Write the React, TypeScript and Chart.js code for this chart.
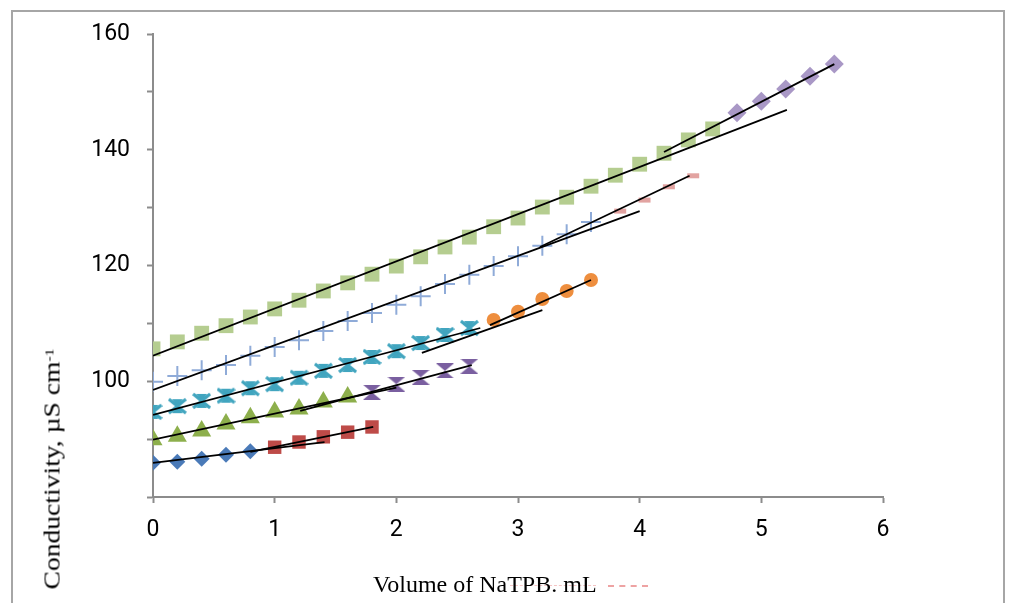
import React, { useEffect, useRef } from 'react';
import { Chart, registerables } from 'chart.js';

Chart.register(...registerables);

// ---- axis ticks ----
const xTicks = [0, 1, 2, 3, 4, 5, 6];
const yLabelled = [100, 120, 140, 160];

// ---- data series ----
const diamondX = [0, 0.2, 0.4, 0.6, 0.8];
const diamondY = [85.9, 86.1, 86.6, 87.3, 87.9];

const redSqX = [1.0, 1.2, 1.4, 1.6, 1.8];
const redSqY = [88.6, 89.5, 90.4, 91.2, 92.1];

const triX = [0, 0.2, 0.4, 0.6, 0.8, 1.0, 1.2, 1.4, 1.6];
const triY = [89.9, 90.5, 91.4, 92.6, 93.7, 94.7, 95.2, 96.4, 97.3];

const hourX = [1.8, 2.0, 2.2, 2.4, 2.6];
const hourY = [98.1, 99.5, 100.7, 101.8, 102.6];

const tealX = [0, 0.2, 0.4, 0.6, 0.8, 1.0, 1.2, 1.4, 1.6, 1.8, 2.0, 2.2, 2.4, 2.6];
const tealY = [94.7, 95.7, 96.6, 97.5, 98.8, 99.5, 100.6, 101.8, 102.8, 104.2, 105.2, 106.6, 108.0, 109.2];

const orangeX = [2.8, 3.0, 3.2, 3.4, 3.6];
const orangeY = [110.6, 112.0, 114.2, 115.6, 117.5];

const plusX = [0, 0.2, 0.4, 0.6, 0.8, 1.0, 1.2, 1.4, 1.6, 1.8, 2.0, 2.2, 2.4, 2.6, 2.8, 3.0, 3.2, 3.4, 3.6];
const plusY = [99.9, 100.9, 101.9, 102.8, 104.4, 105.9, 107.1, 108.7, 110.4, 111.8, 113.2, 114.7, 116.8, 118.4, 119.9, 121.6, 123.4, 125.4, 127.5];

const pinkX = [3.84, 4.04, 4.24, 4.44];
const pinkY = [129.4, 131.3, 133.6, 135.5];

const greenSqX = [0, 0.2, 0.4, 0.6, 0.8, 1.0, 1.2, 1.4, 1.6, 1.8, 2.0, 2.2, 2.4, 2.6, 2.8, 3.0, 3.2, 3.4, 3.6, 3.8, 4.0, 4.2, 4.4, 4.6];
const greenSqY = [105.6, 106.8, 108.3, 109.6, 111.1, 112.5, 114.0, 115.6, 117.0, 118.5, 119.9, 121.5, 123.2, 124.9, 126.7, 128.2, 130.1, 131.8, 133.7, 135.6, 137.5, 139.4, 141.7, 143.6];

const lavX = [4.8, 5.0, 5.2, 5.4, 5.6];
const lavY = [146.4, 148.4, 150.5, 152.7, 154.8];

// ---- fitted straight lines: [x start, x end], [y start, y end] ----
const fitDiamondX = [0, 1.41];
const fitDiamondY = [85.9, 89.5];
const fitRedX = [0.8, 1.81];
const fitRedY = [87.8, 92.1];
const fitTriX = [0, 2.0];
const fitTriY = [89.9, 98.9];
const fitHourX = [1.21, 2.62];
const fitHourY = [94.9, 102.8];
const fitTealX = [0, 2.69];
const fitTealY = [94.2, 109.2];
const fitTeal2X = [2.21, 3.2];
const fitTeal2Y = [104.9, 112.3];
const fitOrangeX = [2.77, 3.6];
const fitOrangeY = [109.7, 117.5];
const fitPlusX = [0, 4.0];
const fitPlusY = [98.5, 129.4];
const fitPinkX = [3.18, 4.41];
const fitPinkY = [123.2, 135.5];
const fitGreenX = [0, 5.21];
const fitGreenY = [104.4, 146.9];
const fitLavX = [4.2, 5.6];
const fitLavY = [139.6, 154.8];

const pts = (xs: number[], ys: number[]) => xs.map((x, i) => ({ x, y: ys[i] }));

function makeStarX(color: string): HTMLCanvasElement {
  const c = document.createElement('canvas');
  c.width = 19;
  c.height = 18;
  const g = c.getContext('2d')!;
  g.fillStyle = color;
  g.strokeStyle = color;
  g.beginPath();
  g.moveTo(4, 2);
  g.lineTo(15, 2);
  g.lineTo(9.5, 9);
  g.closePath();
  g.fill();
  g.beginPath();
  g.moveTo(4, 16);
  g.lineTo(15, 16);
  g.lineTo(9.5, 9);
  g.closePath();
  g.fill();
  g.lineWidth = 3;
  g.beginPath();
  g.moveTo(1, 2);
  g.lineTo(18, 16);
  g.moveTo(18, 2);
  g.lineTo(1, 16);
  g.stroke();
  return c;
}

function makeHourglass(color: string): HTMLCanvasElement {
  const c = document.createElement('canvas');
  c.width = 18;
  c.height = 15;
  const g = c.getContext('2d')!;
  g.fillStyle = color;
  g.beginPath();
  g.moveTo(0, 0);
  g.lineTo(18, 0);
  g.lineTo(9, 7.5);
  g.closePath();
  g.fill();
  g.beginPath();
  g.moveTo(0, 15);
  g.lineTo(18, 15);
  g.lineTo(9, 7.5);
  g.closePath();
  g.fill();
  return c;
}

const AXIS = '#8c8c8c';
const TICK_FONT = "'Roboto', sans-serif";

export default function App() {
  const ref = useRef<HTMLCanvasElement | null>(null);

  useEffect(() => {
    if (!ref.current) return;
    const fit = (xs: number[], ys: number[]) => ({
      data: pts(xs, ys),
      showLine: true,
      borderColor: '#000',
      borderWidth: 1.8,
      pointRadius: 0,
      fill: false,
      order: 0,
    });
    const mark = (xs: number[], ys: number[], style: any, color: string, radius: number, extra: any = {}) => ({
      data: pts(xs, ys),
      showLine: false,
      pointStyle: style,
      pointRadius: radius,
      pointBackgroundColor: color,
      pointBorderColor: color,
      pointBorderWidth: 0,
      order: 1,
      ...extra,
    });

    const chart = new Chart(ref.current, {
      type: 'scatter',
      data: {
        datasets: [
          mark(greenSqX, greenSqY, 'rect', '#B5CD90', 10.5),
          mark(plusX, plusY, 'cross', '#8FABD8', 10, { pointBorderWidth: 2 }),
          mark(pinkX, pinkY, 'line', '#E2A3A1', 6, { pointBorderWidth: 5 }),
          mark(lavX, lavY, 'rectRot', '#A998C6', 9.5),
          mark(tealX, tealY, makeStarX('#41A5BF'), '#41A5BF', 9),
          mark(orangeX, orangeY, 'circle', '#EE8E3E', 7),
          mark(hourX, hourY, makeHourglass('#7A5FA0'), '#7A5FA0', 9),
          mark(triX, triY, 'triangle', '#8DAF4C', 11),
          mark(redSqX, redSqY, 'rect', '#BE4B48', 9.5),
          mark(diamondX, diamondY, 'rectRot', '#4A7AB8', 8),
          fit(fitDiamondX, fitDiamondY),
          fit(fitRedX, fitRedY),
          fit(fitTriX, fitTriY),
          fit(fitHourX, fitHourY),
          fit(fitTealX, fitTealY),
          fit(fitTeal2X, fitTeal2Y),
          fit(fitOrangeX, fitOrangeY),
          fit(fitPlusX, fitPlusY),
          fit(fitPinkX, fitPinkY),
          fit(fitGreenX, fitGreenY),
          fit(fitLavX, fitLavY),
        ] as any,
      },
      options: {
        responsive: false,
        animation: false,
        devicePixelRatio: 1,
        layout: { padding: { left: 73, top: 34, right: 130, bottom: 46 } },
        plugins: { legend: { display: false }, tooltip: { enabled: false } },
        scales: {
          x: {
            type: 'linear',
            min: 0,
            max: 6,
            afterFit: (s: any) => {
              s.height = 60;
            },
            afterBuildTicks: (s: any) => {
              s.ticks = xTicks.map((v) => ({ value: v }));
            },
            ticks: {
              autoSkip: false,
              maxRotation: 0,
              padding: 13,
              color: '#000',
              font: { family: TICK_FONT, size: 23 },
              callback: (v: any) => String(v),
            },
            grid: {
              display: true,
              drawOnChartArea: false,
              drawTicks: true,
              tickLength: 6,
              tickColor: AXIS,
              tickWidth: 2,
            },
            border: { display: true, color: AXIS, width: 2 },
          },
          y: {
            type: 'linear',
            min: 80,
            max: 160,
            afterFit: (s: any) => {
              s.width = 80;
            },
            ticks: {
              stepSize: 10,
              autoSkip: false,
              padding: 17,
              color: '#000',
              font: { family: TICK_FONT, size: 23 },
              callback: (v: any) => (yLabelled.includes(Number(v)) ? String(v) : ''),
            },
            grid: {
              display: true,
              drawOnChartArea: false,
              drawTicks: true,
              tickLength: 6,
              tickColor: AXIS,
              tickWidth: 2,
            },
            border: { display: true, color: AXIS, width: 2 },
          },
        },
      } as any,
    });
    return () => chart.destroy();
  }, []);

  return (
    <div style={{ position: 'absolute', left: 0, top: 0, width: 1013, height: 603, overflow: 'hidden', background: '#fff' }}>
      <div
        style={{
          position: 'absolute',
          left: 11,
          top: 10,
          width: 990,
          height: 620,
          borderTop: '2px solid #a6a6a6',
          borderLeft: '2px solid #a6a6a6',
          borderRight: '2px solid #a6a6a6',
        }}
      />
      <canvas ref={ref} width={1013} height={603} style={{ position: 'absolute', left: 0, top: 0, width: 1013, height: 603 }} />
      <div
        style={{
          position: 'absolute',
          left: 510,
          top: 585,
          width: 86,
          borderTop: '1px dashed #f4c4c4',
        }}
      />
      <div
        style={{
          position: 'absolute',
          left: 608,
          top: 585,
          width: 40,
          borderTop: '2px dashed #eea3a3',
        }}
      />
      <div
        style={{
          position: 'absolute',
          left: 373,
          top: 572,
          fontFamily: "'Liberation Serif', 'Times New Roman', serif",
          fontSize: 24,
          lineHeight: '24px',
          whiteSpace: 'nowrap',
          color: '#000',
        }}
      >
        Volume of NaTPB. mL
      </div>
      <div
        style={{
          position: 'absolute',
          left: 52,
          top: 469,
          transform: 'translate(-50%, -50%) rotate(-90deg) scaleX(1.2)',
          fontFamily: "'Liberation Serif', 'Times New Roman', serif",
          fontSize: 23,
          lineHeight: '23px',
          whiteSpace: 'nowrap',
          color: '#000',
        }}
      >
        Conductivity, µS cm<sup style={{ fontSize: 13, verticalAlign: 'top', position: 'relative', top: -3 }}>-1</sup>
      </div>
    </div>
  );
}
